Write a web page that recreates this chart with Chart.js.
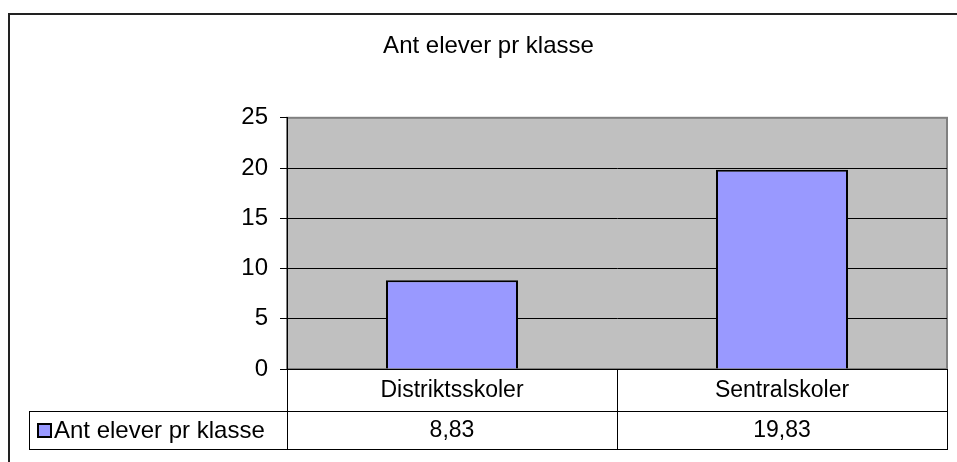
<!DOCTYPE html>
<html lang="no">
<head>
<meta charset="UTF-8">
<script src="https://cdn.jsdelivr.net/npm/chart.js@4.4.1/dist/chart.umd.min.js"></script>
<title>Ant elever pr klasse</title>
<style>
  html, body { margin: 0; padding: 0; background: #fff; }
  #wrap { width: 957px; height: 462px; }
</style>
</head>
<body>
<div id="wrap"><canvas id="myChart" width="957" height="462"></canvas></div>
<script>
const chartTitle = 'Ant elever pr klasse';
const categories = ['Distriktsskoler', 'Sentralskoler'];
const seriesName = 'Ant elever pr klasse';
const seriesValues = [8.83, 19.83];
const yTicks = [0, 5, 10, 15, 20, 25];

const FONT = '"Liberation Sans", Arial, sans-serif';
const fmt = (v) => v.toFixed(2).replace('.', ',');

// grey plot area + thin grey frame, drawn under the bars and grid
const plotBackground = {
  id: 'plotBackground',
  beforeDraw(chart) {
    const { ctx, chartArea: a } = chart;
    ctx.save();
    ctx.fillStyle = '#C0C0C0';
    ctx.fillRect(a.left, a.top, a.right - a.left, a.bottom - a.top);
    ctx.strokeStyle = '#808080';
    ctx.lineWidth = 2;
    ctx.strokeRect(a.left, a.top, a.right - a.left, a.bottom - a.top);
    ctx.restore();
  }
};

// data table under the plot, plus the outer chart frame
const dataTable = {
  id: 'dataTable',
  afterDraw(chart) {
    const { ctx, chartArea: a, scales: { x } } = chart;
    const rowTop = a.bottom;
    const rowMid = 411;
    const rowBot = 449;
    const tableLeft = 29;
    const n = categories.length;
    const step = (a.right - a.left) / n;

    ctx.save();
    ctx.strokeStyle = '#000';
    ctx.lineWidth = 1;
    ctx.beginPath();
    ctx.moveTo(tableLeft, rowMid + 0.5); ctx.lineTo(a.right, rowMid + 0.5);
    ctx.moveTo(tableLeft, rowBot + 0.5); ctx.lineTo(a.right, rowBot + 0.5);
    ctx.moveTo(tableLeft + 0.5, rowMid); ctx.lineTo(tableLeft + 0.5, rowBot);
    for (let i = 0; i <= n; i++) {
      const xp = Math.round(x.getPixelForValue(i) - step / 2) + 0.5;
      ctx.moveTo(xp, rowTop); ctx.lineTo(xp, rowBot + 1);
    }
    ctx.stroke();

    ctx.fillStyle = '#000';
    ctx.font = '23px ' + FONT;
    ctx.textAlign = 'center';
    ctx.textBaseline = 'middle';
    categories.forEach((c, i) => {
      const xp = x.getPixelForValue(i);
      ctx.fillText(c, xp, (rowTop + rowMid) / 2 + 1);
      ctx.fillText(fmt(seriesValues[i]), xp, (rowMid + rowBot) / 2 + 1);
    });

    // legend key + series name
    ctx.fillStyle = '#9999FF';
    ctx.fillRect(38, 424, 13, 13);
    ctx.lineWidth = 2;
    ctx.strokeRect(38, 424, 13, 13);
    ctx.fillStyle = '#000';
    ctx.textAlign = 'left';
    ctx.font = '24px ' + FONT;
    ctx.fillText(seriesName, 54, (rowMid + rowBot) / 2 + 1);

    // outer frame (runs off right and bottom)
    ctx.lineWidth = 2;
    ctx.strokeStyle = '#222';
    ctx.strokeRect(9, 14, 960, 460);
    ctx.restore();
  }
};

const ctx = document.getElementById('myChart').getContext('2d');
new Chart(ctx, {
  type: 'bar',
  data: {
    labels: categories,
    datasets: [{
      label: seriesName,
      data: seriesValues,
      backgroundColor: '#9999FF',
      borderColor: '#000',
      borderWidth: 2,
      categoryPercentage: 1,
      barPercentage: 0.4
    }]
  },
  options: {
    responsive: false,
    animation: false,
    layout: { padding: { left: 30, right: 10, top: 0, bottom: 93 } },
    plugins: {
      legend: { display: false },
      tooltip: { enabled: false },
      title: {
        display: true,
        text: chartTitle,
        color: '#000',
        font: { family: FONT, size: 24, weight: 'normal' },
        padding: { top: 32, bottom: 57 }
      }
    },
    scales: {
      x: { display: false },
      y: {
        min: 0,
        max: 25,
        afterBuildTicks: (scale) => { scale.ticks = yTicks.map((v) => ({ value: v })); },
        afterFit: (scale) => { scale.width = 257; },
        border: { display: true, color: '#000', width: 1 },
        grid: {
          color: (c) => (c.tick && c.tick.value === 25 ? '#808080' : '#000'),
          lineWidth: 1,
          drawTicks: true,
          tickLength: 7,
          tickColor: '#000'
        },
        ticks: {
          color: '#000',
          padding: 12,
          font: { family: FONT, size: 24 }
        }
      }
    }
  },
  plugins: [plotBackground, dataTable]
});
</script>
</body>
</html>
